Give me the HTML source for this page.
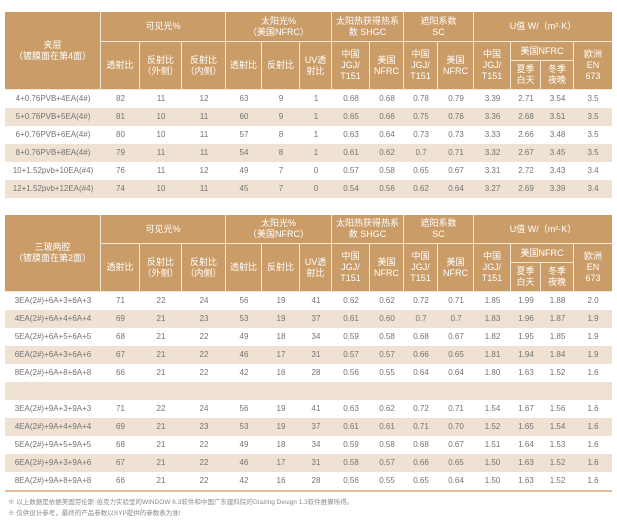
<!DOCTYPE html>
<html><head><meta charset="utf-8">
<style>
*{margin:0;padding:0;box-sizing:border-box}
body{width:617px;height:522px;background:#fff;position:relative;overflow:hidden;font-family:"Liberation Sans","Noto Sans CJK SC",sans-serif}
.hd{position:absolute;left:5px;width:607px;background:#f2e6d7}
.c{position:absolute;background:#c99c68;color:#fff;font-size:9px;line-height:11px;display:flex;align-items:center;justify-content:center;text-align:center;font-family:"Liberation Sans","Noto Sans CJK SC",sans-serif}
.r{position:absolute;left:5px;width:607px;height:18px;display:flex;font-size:8px;color:#737373;line-height:18px}
.r.s{background:#efe2d2}
.r span{display:block;text-align:center;white-space:nowrap;overflow:visible}
.r span:nth-child(1){width:96px}
.r span:nth-child(2){width:39px}
.r span:nth-child(3){width:42px}
.r span:nth-child(4){width:44px}
.r span:nth-child(5){width:36px}
.r span:nth-child(6){width:38px}
.r span:nth-child(7){width:32px}
.r span:nth-child(8){width:38px}
.r span:nth-child(9){width:34px}
.r span:nth-child(10){width:34px}
.r span:nth-child(11){width:36px}
.r span:nth-child(12){width:37px}
.r span:nth-child(13){width:30px}
.r span:nth-child(14){width:33px}
.r span:nth-child(15){width:38px}
.fn{position:absolute;left:8px;font-size:6.5px;color:#8a8a8a;white-space:nowrap;line-height:8px}
</style></head><body>

<!-- TABLE 1 HEADER -->
<div class="hd" style="top:12px;height:78px">
 <div class="c" style="left:0;top:0;width:95px;height:77px">夹层<br>（镀膜面在第4面）</div>
 <div class="c" style="left:96px;top:0;width:124px;height:29px">可见光%</div>
 <div class="c" style="left:221px;top:0;width:105px;height:29px">太阳光%<br>（美国NFRC）</div>
 <div class="c" style="left:327px;top:0;width:71px;height:29px">太阳热获得热系<br>数 SHGC</div>
 <div class="c" style="left:399px;top:0;width:69px;height:29px">遮阳系数<br>SC</div>
 <div class="c" style="left:469px;top:0;width:138px;height:29px">U值 W/（m²·K）</div>

 <div class="c" style="left:96px;top:30px;width:38px;height:47px">透射比</div>
 <div class="c" style="left:135px;top:30px;width:41px;height:47px">反射比<br>（外侧）</div>
 <div class="c" style="left:177px;top:30px;width:43px;height:47px">反射比<br>（内侧）</div>
 <div class="c" style="left:221px;top:30px;width:35px;height:47px">透射比</div>
 <div class="c" style="left:257px;top:30px;width:37px;height:47px">反射比</div>
 <div class="c" style="left:295px;top:30px;width:31px;height:47px">UV透<br>射比</div>
 <div class="c" style="left:327px;top:30px;width:37px;height:47px">中国<br>JGJ/<br>T151</div>
 <div class="c" style="left:365px;top:30px;width:33px;height:47px">美国<br>NFRC</div>
 <div class="c" style="left:399px;top:30px;width:33px;height:47px">中国<br>JGJ/<br>T151</div>
 <div class="c" style="left:433px;top:30px;width:35px;height:47px">美国<br>NFRC</div>
 <div class="c" style="left:469px;top:30px;width:36px;height:47px">中国<br>JGJ/<br>T151</div>
 <div class="c" style="left:506px;top:30px;width:62px;height:18px">美国NFRC</div>
 <div class="c" style="left:506px;top:49px;width:29px;height:28px">夏季<br>白天</div>
 <div class="c" style="left:536px;top:49px;width:32px;height:28px">冬季<br>夜晚</div>
 <div class="c" style="left:569px;top:30px;width:38px;height:47px">欧洲<br>EN<br>673</div>
</div>

<div class="r" style="top:90px"><span>4+0.76PVB+4EA(4#)</span><span>82</span><span>11</span><span>12</span><span>63</span><span>9</span><span>1</span><span>0.68</span><span>0.68</span><span>0.78</span><span>0.79</span><span>3.39</span><span>2.71</span><span>3.54</span><span>3.5</span></div>
<div class="r s" style="top:108px"><span>5+0.76PVB+5EA(4#)</span><span>81</span><span>10</span><span>11</span><span>60</span><span>9</span><span>1</span><span>0.65</span><span>0.66</span><span>0.75</span><span>0.76</span><span>3.36</span><span>2.68</span><span>3.51</span><span>3.5</span></div>
<div class="r" style="top:126px"><span>6+0.76PVB+6EA(4#)</span><span>80</span><span>10</span><span>11</span><span>57</span><span>8</span><span>1</span><span>0.63</span><span>0.64</span><span>0.73</span><span>0.73</span><span>3.33</span><span>2.66</span><span>3.48</span><span>3.5</span></div>
<div class="r s" style="top:144px"><span>8+0.76PVB+8EA(4#)</span><span>79</span><span>11</span><span>11</span><span>54</span><span>8</span><span>1</span><span>0.61</span><span>0.62</span><span>0.7</span><span>0.71</span><span>3.32</span><span>2.67</span><span>3.45</span><span>3.5</span></div>
<div class="r" style="top:162px"><span>10+1.52pvb+10EA(#4)</span><span>76</span><span>11</span><span>12</span><span>49</span><span>7</span><span>0</span><span>0.57</span><span>0.58</span><span>0.65</span><span>0.67</span><span>3.31</span><span>2.72</span><span>3.43</span><span>3.4</span></div>
<div class="r s" style="top:180px"><span>12+1.52pvb+12EA(#4)</span><span>74</span><span>10</span><span>11</span><span>45</span><span>7</span><span>0</span><span>0.54</span><span>0.56</span><span>0.62</span><span>0.64</span><span>3.27</span><span>2.69</span><span>3.39</span><span>3.4</span></div>

<!-- TABLE 2 HEADER -->
<div class="hd" style="top:215px;height:77px">
 <div class="c" style="left:0;top:0;width:95px;height:76px">三玻两腔<br>（镀膜面在第2面）</div>
 <div class="c" style="left:96px;top:0;width:124px;height:28px">可见光%</div>
 <div class="c" style="left:221px;top:0;width:105px;height:28px">太阳光%<br>（美国NFRC）</div>
 <div class="c" style="left:327px;top:0;width:71px;height:28px">太阳热获得热系<br>数 SHGC</div>
 <div class="c" style="left:399px;top:0;width:69px;height:28px">遮阳系数<br>SC</div>
 <div class="c" style="left:469px;top:0;width:138px;height:28px">U值 W/（m²·K）</div>

 <div class="c" style="left:96px;top:29px;width:38px;height:47px">透射比</div>
 <div class="c" style="left:135px;top:29px;width:41px;height:47px">反射比<br>（外侧）</div>
 <div class="c" style="left:177px;top:29px;width:43px;height:47px">反射比<br>（内侧）</div>
 <div class="c" style="left:221px;top:29px;width:35px;height:47px">透射比</div>
 <div class="c" style="left:257px;top:29px;width:37px;height:47px">反射比</div>
 <div class="c" style="left:295px;top:29px;width:31px;height:47px">UV透<br>射比</div>
 <div class="c" style="left:327px;top:29px;width:37px;height:47px">中国<br>JGJ/<br>T151</div>
 <div class="c" style="left:365px;top:29px;width:33px;height:47px">美国<br>NFRC</div>
 <div class="c" style="left:399px;top:29px;width:33px;height:47px">中国<br>JGJ/<br>T151</div>
 <div class="c" style="left:433px;top:29px;width:35px;height:47px">美国<br>NFRC</div>
 <div class="c" style="left:469px;top:29px;width:36px;height:47px">中国<br>JGJ/<br>T151</div>
 <div class="c" style="left:506px;top:29px;width:62px;height:18px">美国NFRC</div>
 <div class="c" style="left:506px;top:48px;width:29px;height:28px">夏季<br>白天</div>
 <div class="c" style="left:536px;top:48px;width:32px;height:28px">冬季<br>夜晚</div>
 <div class="c" style="left:569px;top:29px;width:38px;height:47px">欧洲<br>EN<br>673</div>
</div>

<div class="r" style="top:292px"><span>3EA(2#)+6A+3+6A+3</span><span>71</span><span>22</span><span>24</span><span>56</span><span>19</span><span>41</span><span>0.62</span><span>0.62</span><span>0.72</span><span>0.71</span><span>1.85</span><span>1.99</span><span>1.88</span><span>2.0</span></div>
<div class="r s" style="top:310px"><span>4EA(2#)+6A+4+6A+4</span><span>69</span><span>21</span><span>23</span><span>53</span><span>19</span><span>37</span><span>0.61</span><span>0.60</span><span>0.7</span><span>0.7</span><span>1.83</span><span>1.96</span><span>1.87</span><span>1.9</span></div>
<div class="r" style="top:328px"><span>5EA(2#)+6A+5+6A+5</span><span>68</span><span>21</span><span>22</span><span>49</span><span>18</span><span>34</span><span>0.59</span><span>0.58</span><span>0.68</span><span>0.67</span><span>1.82</span><span>1.95</span><span>1.85</span><span>1.9</span></div>
<div class="r s" style="top:346px"><span>6EA(2#)+6A+3+6A+6</span><span>67</span><span>21</span><span>22</span><span>46</span><span>17</span><span>31</span><span>0.57</span><span>0.57</span><span>0.66</span><span>0.65</span><span>1.81</span><span>1.94</span><span>1.84</span><span>1.9</span></div>
<div class="r" style="top:364px"><span>8EA(2#)+6A+8+6A+8</span><span>66</span><span>21</span><span>22</span><span>42</span><span>16</span><span>28</span><span>0.56</span><span>0.55</span><span>0.64</span><span>0.64</span><span>1.80</span><span>1.63</span><span>1.52</span><span>1.6</span></div>
<div class="r s" style="top:382px"></div>
<div class="r" style="top:400px"><span>3EA(2#)+9A+3+9A+3</span><span>71</span><span>22</span><span>24</span><span>56</span><span>19</span><span>41</span><span>0.63</span><span>0.62</span><span>0.72</span><span>0.71</span><span>1.54</span><span>1.67</span><span>1.56</span><span>1.6</span></div>
<div class="r s" style="top:418px"><span>4EA(2#)+9A+4+9A+4</span><span>69</span><span>21</span><span>23</span><span>53</span><span>19</span><span>37</span><span>0.61</span><span>0.61</span><span>0.71</span><span>0.70</span><span>1.52</span><span>1.65</span><span>1.54</span><span>1.6</span></div>
<div class="r" style="top:436px"><span>5EA(2#)+9A+5+9A+5</span><span>68</span><span>21</span><span>22</span><span>49</span><span>18</span><span>34</span><span>0.59</span><span>0.58</span><span>0.68</span><span>0.67</span><span>1.51</span><span>1.64</span><span>1.53</span><span>1.6</span></div>
<div class="r s" style="top:454px"><span>6EA(2#)+9A+3+9A+6</span><span>67</span><span>21</span><span>22</span><span>46</span><span>17</span><span>31</span><span>0.58</span><span>0.57</span><span>0.66</span><span>0.65</span><span>1.50</span><span>1.63</span><span>1.52</span><span>1.6</span></div>
<div class="r" style="top:472px"><span>8EA(2#)+9A+8+9A+8</span><span>66</span><span>21</span><span>22</span><span>42</span><span>16</span><span>28</span><span>0.56</span><span>0.55</span><span>0.65</span><span>0.64</span><span>1.50</span><span>1.63</span><span>1.52</span><span>1.6</span></div>
<div style="position:absolute;left:5px;top:490px;width:607px;height:2px;background:#dcbf98"></div>

<div class="fn" style="top:499px">※ 以上数据是依据美国劳伦斯·伯克力实验室的WINDOW 6.3软件和中国广东建科院的Glazing Design 1.3软件推算所得。</div>
<div class="fn" style="top:510px">※ 仅供设计参考，最终的产品参数以SYP提供的参数表为准!</div>
</body></html>
